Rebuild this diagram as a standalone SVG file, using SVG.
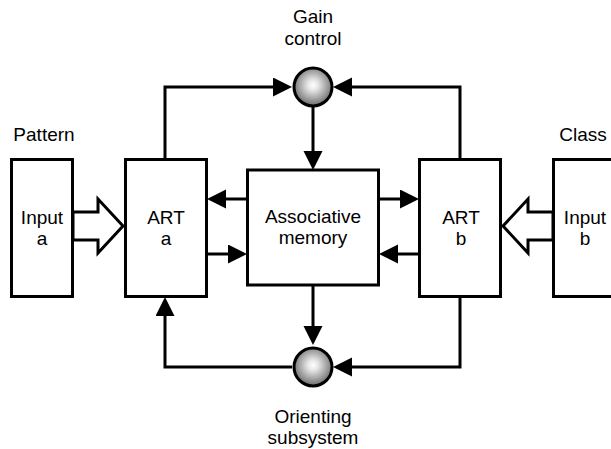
<svg xmlns="http://www.w3.org/2000/svg" width="611" height="449" viewBox="0 0 611 449">
<style>
.box{fill:#fff;stroke:#000;stroke-width:3}
.ln{fill:none;stroke:#000;stroke-width:3;marker-end:url(#ah)}
.hol{fill:#fff;stroke:#000;stroke-width:3;stroke-linejoin:miter}
.ball{fill:url(#g);stroke:#000;stroke-width:3}
text{font-family:"Liberation Sans",Arial,sans-serif;font-size:19px;fill:#000;text-anchor:middle}
</style>
<defs>
<marker id="ah" markerUnits="userSpaceOnUse" markerWidth="20" markerHeight="20" refX="11" refY="9.5" orient="auto">
<path d="M0,0 L19,9.5 L0,19 z" fill="#000"/>
</marker>
<radialGradient id="g" cx="0.5" cy="0.45" r="0.55">
<stop offset="0" stop-color="#ffffff"/>
<stop offset="0.25" stop-color="#e6e6e6"/>
<stop offset="1" stop-color="#6a6a6a"/>
</radialGradient>
</defs>
<g id="connectors">
<path class="ln" d="M165,159 V87 H284"/>
<path class="ln" d="M460,159 V87 H341"/>
<path class="ln" d="M313,107 V162"/>
<path class="ln" d="M313,285 V337"/>
<path class="ln" d="M292,367 H165 V305"/>
<path class="ln" d="M460,297 V367 H341"/>
<path class="ln" d="M247,199 H215"/>
<path class="ln" d="M207,254 H239"/>
<path class="ln" d="M379,199 H411"/>
<path class="ln" d="M419,254 H387"/>
<polygon class="hol" points="73,212 98,212 98,199 123,226 98,253 98,240 73,240"/>
<polygon class="hol" points="553,212 528,212 528,199 503,226 528,253 528,240 553,240"/>
</g>
<g id="input-a">
<rect class="box" x="11.5" y="159.5" width="61" height="137"/>
<text x="42" y="224">Input</text>
<text x="42" y="245">a</text>
</g>
<g id="art-a">
<rect class="box" x="125.5" y="159.5" width="81" height="137"/>
<text x="166" y="224">ART</text>
<text x="166" y="245">a</text>
</g>
<g id="memory">
<rect class="box" x="247.5" y="170" width="131" height="115"/>
<text x="313" y="223">Associative</text>
<text x="313" y="244">memory</text>
</g>
<g id="art-b">
<rect class="box" x="419.5" y="159.5" width="81" height="137"/>
<text x="461" y="224">ART</text>
<text x="461" y="245">b</text>
</g>
<g id="input-b">
<rect class="box" x="553.5" y="159.5" width="62" height="137"/>
<text x="585" y="224">Input</text>
<text x="585" y="245">b</text>
</g>
<g id="gain-control">
<circle class="ball" cx="313" cy="87" r="19"/>
<text x="313" y="23">Gain</text>
<text x="313" y="45">control</text>
</g>
<g id="orienting">
<circle class="ball" cx="313" cy="367" r="19"/>
<text x="313" y="423">Orienting</text>
<text x="313" y="444">subsystem</text>
</g>
<g id="labels">
<text x="44" y="141">Pattern</text>
<text x="583" y="141">Class</text>
</g>
</svg>
